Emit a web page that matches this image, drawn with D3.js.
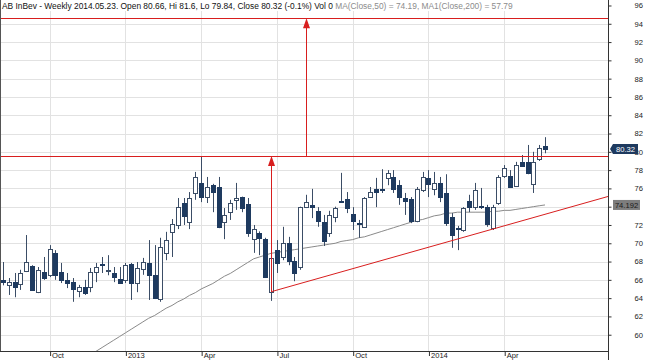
<!DOCTYPE html>
<html>
<head>
<meta charset="utf-8">
<script src="https://cdn.jsdelivr.net/npm/d3@7"></script>
<style>
  body { margin: 0; background: #fff; }
  svg { display: block; font-family: Arial, "Liberation Sans", sans-serif; }
</style>
</head>
<body>
<script>
//// Drawing area ////
const WIDTH = 645
const HEIGHT = 360
const plotRight = 608
const plotBottom = 351

//// Data: weekly candles, first bar on 2012-08-10 ////
const firstWeek = "2012-08-10"

const opens = [66.0, 65.45, 65.8, 65.55, 66.95, 67.5, 64.65, 66.85, 66.55, 68.95,
  66.85, 66.0, 65.75, 64.8, 65.2, 65.2, 66.85, 67.7, 67.0, 66.75,
  66.1, 66.0, 67.75, 65.65, 67.2, 67.85, 66.55, 63.9, 68.95, 71.25,
  72.0, 74.4, 72.3, 75.5, 76.6, 75.05, 76.35, 76.15, 72.3, 73.4,
  74.75, 75.05, 74.3, 70.45, 71.1, 70.45, 64.65, 69.25, 68.5, 70.05,
  68.05, 67.4, 74.0, 74.2, 73.55, 72.3, 71.1, 72.85, 74.6, 74.85,
  73.2, 72.25, 71.8, 75.05, 75.95, 75.95, 77.15, 77.25, 76.35, 74.95,
  74.85, 72.5, 75.8, 77.15, 75.95, 76.6, 75.5, 72.85, 71.7, 71.45,
  74.6, 73.95, 74.1, 73.95, 71.65, 74.4, 77.35, 77.35, 76.25, 78.9,
  78.9, 76.5, 79.2, 80.66]
const highs = [67.95, 66.2, 66.75, 67.1, 70.9, 67.6, 67.4, 68.5, 69.8, 69.25,
  67.85, 66.75, 66.2, 65.45, 66.0, 67.3, 67.85, 68.5, 68.7, 67.4,
  67.4, 67.85, 67.85, 67.95, 68.4, 70.35, 69.8, 70.6, 71.25, 72.65,
  74.95, 74.95, 75.6, 77.8, 79.45, 77.25, 76.5, 77.25, 73.85, 74.75,
  76.6, 75.1, 74.95, 72.0, 71.3, 70.6, 69.05, 70.35, 71.8, 70.7,
  68.5, 74.0, 75.3, 75.95, 73.95, 73.1, 73.55, 74.0, 77.7, 75.6,
  73.95, 72.55, 75.05, 76.15, 77.15, 78.1, 78.0, 78.0, 76.9, 75.5,
  75.05, 76.15, 77.8, 78.0, 77.8, 77.25, 77.55, 73.3, 71.9, 73.95,
  75.3, 76.6, 76.05, 74.2, 74.2, 77.45, 78.55, 78.0, 78.9, 79.65,
  80.75, 80.0, 80.75, 81.6]
const lows = [65.4, 64.35, 64.1, 64.9, 66.85, 64.85, 64.55, 66.0, 66.3, 66.0,
  65.65, 65.1, 63.6, 64.1, 64.35, 64.65, 65.75, 66.75, 66.5, 65.75,
  65.6, 65.65, 63.8, 64.65, 66.55, 63.8, 63.9, 63.6, 68.15, 68.5,
  71.55, 72.0, 71.55, 74.75, 74.5, 74.4, 73.4, 71.65, 70.45, 72.55,
  73.65, 73.4, 70.7, 68.95, 68.7, 66.2, 63.7, 66.75, 68.15, 67.6,
  65.85, 67.1, 73.85, 72.75, 71.8, 69.7, 70.7, 72.3, 74.4, 73.3,
  71.45, 70.6, 71.7, 74.95, 73.95, 75.5, 76.35, 75.5, 74.2, 73.1,
  72.2, 72.3, 75.6, 75.05, 75.25, 74.5, 71.9, 69.5, 69.25, 71.25,
  73.4, 73.65, 73.75, 71.8, 71.45, 74.2, 77.15, 76.05, 76.15, 78.35,
  77.55, 75.5, 79.0, 79.84]
const closes = [65.8, 65.75, 65.3, 66.75, 67.95, 64.9, 67.1, 66.2, 69.35, 66.55,
  66.0, 65.65, 65.0, 65.2, 64.55, 66.85, 67.4, 67.55, 67.1, 66.3,
  65.65, 67.6, 65.65, 67.3, 67.95, 66.55, 64.0, 69.6, 70.35, 72.1,
  73.95, 73.0, 74.95, 77.25, 75.05, 76.15, 75.6, 71.8, 73.1, 74.4,
  74.95, 73.85, 71.1, 71.55, 70.6, 66.3, 68.4, 67.85, 70.05, 68.05,
  66.75, 73.95, 74.5, 73.95, 72.45, 70.25, 73.1, 73.85, 74.5, 73.85,
  72.45, 72.2, 74.95, 75.6, 75.6, 75.85, 77.7, 75.95, 75.05, 74.6,
  72.45, 75.95, 77.25, 76.5, 76.6, 75.05, 72.2, 70.9, 71.6, 73.85,
  73.95, 75.8, 74.05, 72.1, 73.95, 77.25, 78.25, 76.15, 78.55, 78.45,
  77.7, 78.9, 80.4, 80.32]

// 50-week moving average, starting at bar 15
const maStart = 15
const ma50 = [57.6, 58.2, 58.6, 59.0, 59.4, 59.8, 60.2, 60.6, 61.0, 61.4,
  61.8, 62.1, 62.5, 62.9, 63.2, 63.6, 63.9, 64.3, 64.6, 65.0,
  65.3, 65.6, 66.0, 66.4, 66.7, 67.1, 67.5, 67.9, 68.3, 68.5,
  68.7, 68.9, 69.0, 69.1, 69.2, 69.3, 69.4, 69.5, 69.6, 69.7,
  69.8, 69.9, 70.0, 70.2, 70.3, 70.4, 70.6, 70.7, 70.9, 71.1,
  71.3, 71.5, 71.7, 71.9, 72.1, 72.3, 72.5, 72.6, 72.8, 73.0,
  73.1, 73.3, 73.3, 73.4, 73.4, 73.4, 73.4, 73.4, 73.4, 73.5,
  73.5, 73.6, 73.6, 73.7, 73.8, 73.9, 74.0, 74.1, 74.19]

// axes
const yTicks = d3.range(60, 97, 2)
const yHidden = [74]   // covered by the MA price tag
const xTickDates = ["2012-10-05", "2013-01-04", "2013-04-05", "2013-07-05", "2013-10-04", "2014-01-03", "2014-04-04"]
const xTickLabels = ["Oct", "2013", "Apr", "Jul", "Oct", "2014", "Apr"]

// drawn analysis (red)
const resistance = 79.55
const target = 94.6
const trendStart = ["2013-06-28", 64.7]
const trendEnd = ["2014-08-08", 75.15]
const arrowUp1 = ["2013-06-28", 64.7, 79.55]
const arrowUp2 = ["2013-08-09", 79.55, 94.6]

// header
const headerMain = "AB InBev - Weekly 2014.05.23. Open 80.66, Hi 81.6, Lo 79.84, Close 80.32 (-0.1%) Vol 0 "
const headerMA = "MA(Close,50) = 74.19, MA1(Close,200) = 57.79"
const lastLabel = "80.32"
const maLabel = "74.192"

//// Colours ////
const navy = "#1e3a5f"
const wickColor = "#3b4d66"
const red = "#d81e1e"
const gridColor = "#e2e2e2"

const parse = d3.utcParse("%Y-%m-%d")
const dates = opens.map((_, i) => d3.utcDay.offset(parse(firstWeek), 7 * i))
const bars = dates.map((d, i) => ({ date: d, o: opens[i], h: highs[i], l: lows[i], c: closes[i] }))

const x = d3.scaleUtc()
  .domain([dates[0], dates[dates.length - 1]])
  .range([3, 545])
const y = d3.scaleLinear()
  .domain([58.22, 96.6])
  .range([plotBottom, 0])

const px = v => Math.round(v) + 0.5

const svg = d3.select("body").append("svg")
  .attr("width", WIDTH)
  .attr("height", HEIGHT)

svg.append("defs").append("clipPath").attr("id", "plot")
  .append("rect").attr("x", 0).attr("y", 0).attr("width", plotRight).attr("height", plotBottom)

/// grid ///
svg.append("g").selectAll("line").data(yTicks).join("line")
  .attr("x1", 0).attr("x2", plotRight)
  .attr("y1", d => px(y(d))).attr("y2", d => px(y(d)))
  .attr("stroke", gridColor)
svg.append("g").selectAll("line").data(xTickDates).join("line")
  .attr("x1", d => px(x(parse(d)))).attr("x2", d => px(x(parse(d))))
  .attr("y1", 0).attr("y2", plotBottom)
  .attr("stroke", gridColor)

const plot = svg.append("g").attr("clip-path", "url(#plot)")

/// moving average ///
plot.append("path")
  .datum(ma50)
  .attr("fill", "none")
  .attr("stroke", "#8a8a8a")
  .attr("stroke-width", 1)
  .attr("d", d3.line()
    .x((d, i) => x(dates[maStart + i]))
    .y(d => y(d)))

/// candles ///
const bodyW = 4
const candle = plot.append("g").selectAll("g").data(bars).join("g")
candle.append("line")
  .attr("x1", d => px(x(d.date))).attr("x2", d => px(x(d.date)))
  .attr("y1", d => y(d.h)).attr("y2", d => y(d.l))
  .attr("stroke", wickColor)
candle.append("rect")
  .attr("x", d => Math.round(x(d.date)) - bodyW / 2 + 0.5)
  .attr("y", d => Math.round(y(Math.max(d.o, d.c))) + 0.5)
  .attr("width", bodyW)
  .attr("height", d => Math.max(1, Math.round(Math.abs(y(d.o) - y(d.c)))))
  .attr("fill", d => d.c >= d.o ? "#fff" : navy)
  .attr("stroke", d => d.c >= d.o ? wickColor : navy)

/// red analysis lines ///
const ann = plot.append("g").attr("stroke", red).attr("fill", "none")
;[resistance, target].forEach(v => {
  ann.append("line")
    .attr("x1", 0).attr("x2", plotRight)
    .attr("y1", px(y(v))).attr("y2", px(y(v)))
})
ann.append("line")
  .attr("x1", x(parse(trendStart[0]))).attr("y1", y(trendStart[1]))
  .attr("x2", x(parse(trendEnd[0]))).attr("y2", y(trendEnd[1]))
;[arrowUp1, arrowUp2].forEach(a => {
  const ax = px(x(parse(a[0])))
  const yTop = y(a[2])
  ann.append("line")
    .attr("x1", ax).attr("x2", ax)
    .attr("y1", y(a[1])).attr("y2", yTop + 8)
  plot.append("path")
    .attr("fill", red)
    .attr("d", `M${ax},${yTop} L${ax - 3.5},${yTop + 10} L${ax + 3.5},${yTop + 10} Z`)
})

/// header ///
svg.append("rect")
  .attr("x", 1).attr("y", 0).attr("width", plotRight - 1).attr("height", 11)
  .attr("fill", "#fff")
const header = svg.append("text")
  .attr("x", 2).attr("y", 8.5)
  .attr("font-size", 8.4)
  .attr("fill", "#111")
header.append("tspan").text(headerMain)
header.append("tspan").attr("fill", "#8c8c8c").text(headerMA)

/// frame ///
svg.append("line").attr("x1", 0.5).attr("x2", 0.5).attr("y1", 0).attr("y2", plotBottom).attr("stroke", "#555")
svg.append("line").attr("x1", 0).attr("x2", plotRight).attr("y1", plotBottom + 0.5).attr("y2", plotBottom + 0.5).attr("stroke", "#333")
svg.append("line").attr("x1", plotRight + 0.5).attr("x2", plotRight + 0.5).attr("y1", 0).attr("y2", HEIGHT).attr("stroke", "#333")

/// right axis ///
const yAxis = svg.append("g")
  .attr("transform", `translate(${plotRight + 0.5},0)`)
  .call(d3.axisRight(y).tickValues(yTicks).tickSize(3).tickPadding(23).tickFormat(d3.format("d")))
yAxis.select(".domain").remove()
yAxis.selectAll(".tick line").attr("stroke", "#333")
yAxis.selectAll(".tick text")
  .attr("font-size", 7.6)
  .attr("font-family", "Arial, 'Liberation Sans', sans-serif")
  .attr("fill", "#222")
  .filter(d => yHidden.includes(d)).remove()

/// bottom axis ///
const xAxis = svg.append("g")
  .attr("transform", `translate(0,${plotBottom})`)
  .call(d3.axisBottom(x)
    .tickValues(xTickDates.map(parse))
    .tickSize(5)
    .tickSizeOuter(0)
    .tickFormat((d, i) => xTickLabels[i]))
xAxis.select(".domain").remove()
xAxis.selectAll(".tick line").attr("stroke", "#333").attr("transform", "translate(0.5,0)")
xAxis.selectAll(".tick text")
  .attr("text-anchor", "start")
  .attr("x", 2)
  .attr("y", 1.5)
  .attr("font-size", 7.6)
  .attr("font-family", "Arial, 'Liberation Sans', sans-serif")
  .attr("fill", "#222")

/// price tags ///
const tagLast = svg.append("g").attr("transform", `translate(0,${y(closes[closes.length - 1])})`)
tagLast.append("path")
  .attr("fill", navy)
  .attr("d", `M${plotRight + 2},0 L${plotRight + 5},-5 L${plotRight + 30},-5 L${plotRight + 30},5 L${plotRight + 5},5 Z`)
tagLast.append("text")
  .attr("x", plotRight + 17.5).attr("y", 2.8)
  .attr("text-anchor", "middle")
  .attr("font-size", 7.6)
  .attr("fill", "#fff")
  .text(lastLabel)

const tagMA = svg.append("g").attr("transform", `translate(0,${y(ma50[ma50.length - 1])})`)
tagMA.append("rect")
  .attr("x", plotRight + 5).attr("y", -5)
  .attr("width", 27).attr("height", 10)
  .attr("fill", "#7d7d7d")
tagMA.append("text")
  .attr("x", plotRight + 18.5).attr("y", 2.8)
  .attr("text-anchor", "middle")
  .attr("font-size", 7.6)
  .attr("fill", "#1a1a1a")
  .text(maLabel)
</script>
</body>
</html>
